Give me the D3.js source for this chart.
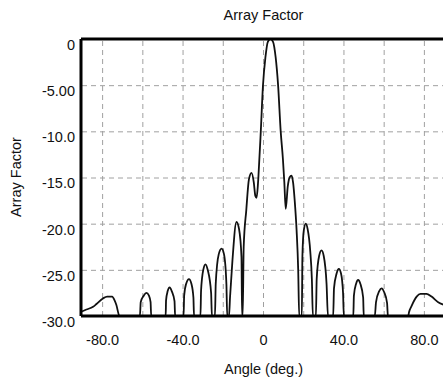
<!DOCTYPE html>
<html>
<head>
<meta charset="utf-8">
<script src="https://cdn.jsdelivr.net/npm/d3@7"></script>
<style>
  body { margin: 0; background: #fff; }
  text { font-family: "Liberation Sans", Arial, sans-serif; fill: #111; }
</style>
</head>
<body>
<div id="chart"></div>
<script>
// Array factor (dB) against angle (deg)
var angles = [
  -90, -87.8, -84.5, -82.8, -79.6, -77.5, -75.0, -73.8, -72.9, -71.4,
  -61.2, -60.8, -59.3, -58.0, -56.7, -55.9, -55.6,
  -48.4, -48.2, -47.4, -46.4, -45.4, -44.0, -43.7,
  -39.5, -39.2, -38.2, -36.8, -35.6, -34.6, -34.3,
  -31.1, -30.8, -29.7, -28.6, -27.5, -25.8, -25.4,
  -23.9, -23.5, -22.0, -20.6, -19.4, -18.2, -17.8,
  -16.9, -16.4, -15.2, -13.2, -11.9, -10.7, -10.4,
  -10.1, -9.6, -8.3, -7.0, -5.7, -4.6, -3.8, -3.2,
  -2.6, -2.3, -1.1, 0.0, 1.2, 2.4, 3.7, 5.0, 6.3, 7.5, 8.8, 9.9, 10.6, 11.3,
  12.3, 13.2, 14.2, 15.0, 15.8, 16.7, 17.5, 18.0,
  19.3, 19.6, 20.3, 21.3, 22.2, 23.5, 24.3, 24.8,
  26.3, 26.7, 27.9, 29.1, 30.2, 31.6, 32.3,
  34.9, 35.3, 36.6, 37.7, 38.8, 39.8, 40.2,
  44.9, 45.2, 46.3, 47.3, 48.4, 49.8, 50.1,
  55.6, 56.2, 57.8, 59.0, 60.2, 61.7, 62.1,
  72.2, 72.6, 73.9, 76.4, 78.3, 81.3, 83.8, 87.1, 90
];
var afDb = [
  -29.5, -29.3, -29.0, -28.7, -28.1, -27.9, -27.9, -28.3, -28.8, -30,
  -30, -28.5, -27.8, -27.5, -27.8, -28.5, -30,
  -30, -28.3, -27.3, -26.9, -27.3, -28.4, -30,
  -30, -27.8, -26.5, -26.0, -26.5, -28.0, -30,
  -30, -27.3, -25.0, -24.4, -25.0, -27.5, -30,
  -30, -26.5, -23.3, -22.7, -23.3, -26.5, -30,
  -30, -28.0, -24.0, -19.8, -20.6, -23.6, -30,
  -30, -22.5, -18.5, -15.2, -14.5, -15.5, -17.0, -17.2,
  -16.0, -15.0, -10.0, -5.0, -2.0, -0.3, 0, -0.3, -2.0, -5.0, -10.0, -13.0, -15.5, -18.4,
  -16.0, -15.0, -14.8, -15.6, -17.6, -20.7, -25.0, -30,
  -30, -23.5, -20.7, -20.0, -20.6, -23.0, -26.0, -30,
  -30, -26.0, -23.5, -22.9, -23.5, -26.5, -30,
  -30, -27.0, -25.4, -24.9, -25.4, -27.5, -30,
  -30, -27.8, -26.5, -26.1, -26.5, -28.0, -30,
  -30, -28.5, -27.3, -27.0, -27.4, -28.6, -30,
  -30, -29.6, -28.9, -27.9, -27.6, -27.6, -27.9, -28.5, -28.8
];
var xGridVals = [-80, -60, -40, -20, 0, 20, 40, 60, 80];
var xTickVals = [-80, -40, 0, 40, 80];
var xTickLabels = ["-80.0", "-40.0", "0", "40.0", "80.0"];
var yTickVals = [0, -5, -10, -15, -20, -25, -30];
var yTickLabels = ["0", "-5.00", "-10.0", "-15.0", "-20.0", "-25.0", "-30.0"];

var width = 443, height = 385;
var plot = { left: 82, right: 444, top: 39, bottom: 316 };

var svg = d3.select("#chart").append("svg")
  .attr("width", width)
  .attr("height", height);

var x = d3.scaleLinear().domain([-90, 90]).range([plot.left, plot.right]);
var y = d3.scaleLinear().domain([-30, 0]).range([plot.bottom, plot.top]);

//grid
svg.append("g")
  .attr("class", "grid")
  .attr("transform", "translate(0," + plot.bottom + ")")
  .call(d3.axisBottom(x).tickValues(xGridVals).tickSize(-(plot.bottom - plot.top)).tickFormat(""))
  .call(g => g.select(".domain").remove());
svg.append("g")
  .attr("class", "grid")
  .attr("transform", "translate(" + plot.left + ",0)")
  .call(d3.axisLeft(y).tickValues([-5, -10, -15, -20, -25]).tickSize(-(plot.right - plot.left)).tickFormat(""))
  .call(g => g.select(".domain").remove());
svg.selectAll(".grid line")
  .attr("stroke", "#a0a0a0")
  .attr("stroke-width", 1)
  .attr("stroke-dasharray", "5,4");

//curve
svg.append("clipPath").attr("id", "clip")
  .append("rect")
  .attr("x", plot.left).attr("y", plot.top - 2)
  .attr("width", plot.right - plot.left).attr("height", plot.bottom - plot.top + 2);

var line = d3.line()
  .x(function(d, i) { return x(angles[i]); })
  .y(function(d, i) { return y(afDb[i]); })
  .curve(d3.curveMonotoneX);

svg.append("path")
  .datum(afDb)
  .attr("clip-path", "url(#clip)")
  .attr("fill", "none")
  .attr("stroke", "#111")
  .attr("stroke-width", 1.8)
  .attr("stroke-linejoin", "round")
  .attr("d", line);

//frame
svg.append("line")
  .attr("x1", plot.left - 1).attr("x2", plot.right)
  .attr("y1", plot.top).attr("y2", plot.top)
  .attr("stroke", "#000").attr("stroke-width", 3);
svg.append("line")
  .attr("x1", plot.left - 1).attr("x2", plot.right)
  .attr("y1", plot.bottom).attr("y2", plot.bottom)
  .attr("stroke", "#000").attr("stroke-width", 3);
svg.append("line")
  .attr("x1", plot.left - 1).attr("x2", plot.left - 1)
  .attr("y1", plot.top).attr("y2", plot.bottom)
  .attr("stroke", "#000").attr("stroke-width", 3);

//axes labels
var xAxis = svg.append("g")
  .attr("transform", "translate(0," + plot.bottom + ")")
  .call(d3.axisBottom(x).tickValues(xTickVals).tickSize(0).tickPadding(19)
    .tickFormat(function(d, i) { return xTickLabels[i]; }));
xAxis.select(".domain").remove();

var yAxis = svg.append("g")
  .attr("transform", "translate(" + (plot.left - 1) + ",0)")
  .call(d3.axisLeft(y).tickValues(yTickVals).tickSize(0).tickPadding(6)
    .tickFormat(function(d, i) { return yTickLabels[i]; }));
yAxis.select(".domain").remove();
yAxis.selectAll("text").attr("dy", "0.72em");

svg.selectAll(".tick text")
  .style("font-family", "'Liberation Sans', Arial, sans-serif")
  .style("font-size", "14.5px")
  .attr("fill", "#111");

svg.append("text")
  .attr("x", 263.5).attr("y", 20)
  .attr("text-anchor", "middle")
  .style("font-size", "14.5px")
  .text("Array Factor");

svg.append("text")
  .attr("x", 263.5).attr("y", 374)
  .attr("text-anchor", "middle")
  .style("font-size", "14.5px")
  .text("Angle (deg.)");

svg.append("text")
  .attr("transform", "translate(21,177) rotate(-90)")
  .attr("text-anchor", "middle")
  .style("font-size", "14.5px")
  .text("Array Factor");
</script>
</body>
</html>
